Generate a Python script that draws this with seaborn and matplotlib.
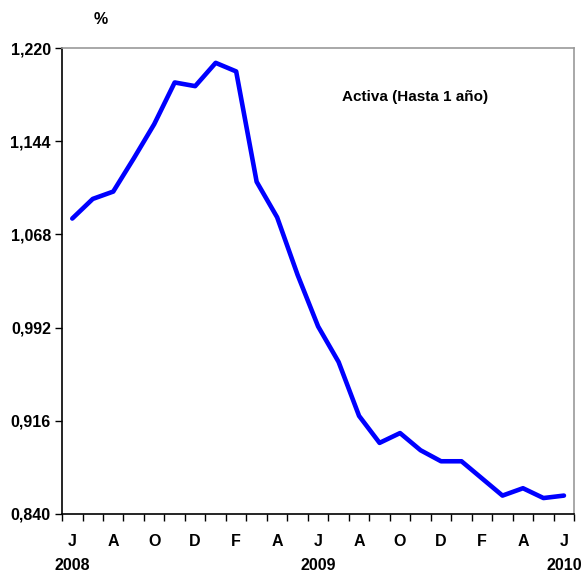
import numpy as np
import pandas as pd
import matplotlib
matplotlib.use("Agg")
import matplotlib.pyplot as plt
import seaborn as sns

# ====== data ======
months = ["Jun08", "Jul08", "Aug08", "Sep08", "Oct08", "Nov08", "Dec08", "Jan09", "Feb09",
          "Mar09", "Apr09", "May09", "Jun09", "Jul09", "Aug09", "Sep09", "Oct09", "Nov09",
          "Dec09", "Jan10", "Feb10", "Mar10", "Apr10", "May10", "Jun10"]
activa = [1.081, 1.097, 1.103, 1.130, 1.158, 1.192, 1.189, 1.208, 1.201,
          1.111, 1.082, 1.035, 0.993, 0.964, 0.920, 0.898, 0.906, 0.892,
          0.883, 0.883, 0.869, 0.855, 0.861, 0.853, 0.855]
month_labels = ["J", "A", "O", "D", "F", "A", "J", "A", "O", "D", "F", "A", "J"]
year_labels = {0: "2008", 12: "2009", 24: "2010"}
y_ticks = [0.840, 0.916, 0.992, 1.068, 1.144, 1.220]

df = pd.DataFrame({"idx": np.arange(len(months)), "month": months, "activa": activa})

sns.set_style("white")
plt.rcParams["font.family"] = ["Liberation Sans", "DejaVu Sans"]
plt.rcParams["font.weight"] = "bold"
plt.rcParams["text.color"] = "black"
plt.rcParams["xtick.color"] = "black"
plt.rcParams["ytick.color"] = "black"

fig = plt.figure(figsize=(5.84, 5.73), dpi=100)
ax = fig.add_axes([0.1062, 0.103, 0.877, 0.813])

sns.lineplot(data=df, x="idx", y="activa", color="#0000ff", linewidth=3.3, ax=ax)

ax.set_xlim(-0.5, len(months) - 0.5)
ax.set_ylim(y_ticks[0], y_ticks[-1])

# y axis
ax.set_yticks(y_ticks)
ax.set_yticklabels([f"{v:.3f}".replace(".", ",") for v in y_ticks], fontsize=11.5,
                   fontweight="bold", color="black")
ax.tick_params(axis="y", length=5, width=1, direction="out", color="black", pad=3, left=True)

# x axis: tick marks between months, labels every 2 months
ax.set_xticks(np.arange(-0.5, len(months), 1.0))
ax.set_xticklabels([])
ax.tick_params(axis="x", length=5, width=1, direction="out", color="black", bottom=True)
for i, lab in enumerate(month_labels):
    ax.text(i * 2, -0.044, lab, transform=ax.get_xaxis_transform(), ha="center", va="top",
            fontsize=11.5, fontweight="bold", color="black")
for i, lab in year_labels.items():
    ax.text(i, -0.094, lab, transform=ax.get_xaxis_transform(), ha="center", va="top",
            fontsize=11.5, fontweight="bold", color="black")

ax.set_xlabel("")
ax.set_ylabel("")

for side in ["left", "bottom"]:
    ax.spines[side].set_color("black")
    ax.spines[side].set_linewidth(1.2)
for side in ["top", "right"]:
    ax.spines[side].set_color("#999999")
    ax.spines[side].set_linewidth(1.2)

fig.text(101 / 584, 1 - 20 / 573, "%", ha="center", va="center", fontsize=11.5,
         fontweight="bold", color="black")
ax.text(415 / 584, 1 - 97 / 573, "Activa (Hasta 1 año)", transform=fig.transFigure,
        ha="center", va="center", fontsize=11, fontweight="bold", color="black")

fig.savefig("out.png", dpi=100)
